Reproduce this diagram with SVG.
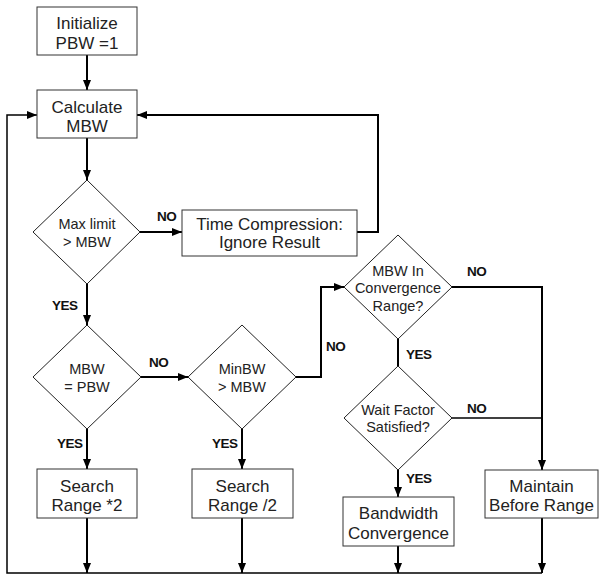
<svg xmlns="http://www.w3.org/2000/svg" width="599" height="577" viewBox="0 0 599 577">
<style>
  .box{fill:#fff;stroke:#333;stroke-width:1}
  .dia{fill:#fff;stroke:#222;stroke-width:1}
  .t{font-family:"Liberation Sans",Arial,sans-serif;font-size:17px;fill:#222;text-anchor:middle}
  .d{font-family:"Liberation Sans",Arial,sans-serif;font-size:14.5px;fill:#222;text-anchor:middle}
  .lb{font-family:"Liberation Sans",Arial,sans-serif;font-size:13.5px;font-weight:bold;fill:#111;letter-spacing:-0.5px}
  .c{fill:none;stroke:#000;stroke-width:2}
  .c1{fill:none;stroke:#000;stroke-width:1.5}
</style>
<defs>
  <marker id="ah" markerUnits="userSpaceOnUse" markerWidth="10" markerHeight="10" viewBox="0 0 10 10" refX="10" refY="5" orient="auto">
    <path d="M0,1 L10,5 L0,9 Z" fill="#000"/>
  </marker>
</defs>
<rect width="599" height="577" fill="#fff"/>
<g id="connectors">
  <path class="c" d="M87,55 V90" marker-end="url(#ah)"/>
  <path class="c" d="M87,138 V180" marker-end="url(#ah)"/>
  <path class="c" d="M140,232 H182" marker-end="url(#ah)"/>
  <path class="c" d="M87,284 V325" marker-end="url(#ah)"/>
  <path class="c" d="M141,377 H188" marker-end="url(#ah)"/>
  <path class="c" d="M87,429 V469" marker-end="url(#ah)"/>
  <path class="c" d="M242,429 V469" marker-end="url(#ah)"/>
  <path class="c" d="M296,377 H321 V287 H344" marker-end="url(#ah)"/>
  <path class="c" d="M452,287 H542 V470" marker-end="url(#ah)"/>
  <path class="c1" d="M452,418 H542"/>
  <path class="c" d="M398,339 V366"/>
  <path class="c" d="M398,470 V497" marker-end="url(#ah)"/>
  <path class="c" d="M357,232 H378 V115 H137" marker-end="url(#ah)"/>
  <path class="c" d="M87,518 V573" marker-end="url(#ah)"/>
  <path class="c" d="M242,518 V573" marker-end="url(#ah)"/>
  <path class="c" d="M398,546 V573" marker-end="url(#ah)"/>
  <path class="c" d="M542,518 V573" marker-end="url(#ah)"/>
  <path class="c1" d="M542,573 H7 V115 H37" marker-end="url(#ah)"/>
</g>
<g id="labels">
  <text class="lb" x="157" y="221">NO</text>
  <text class="lb" x="52" y="310">YES</text>
  <text class="lb" x="149" y="367">NO</text>
  <text class="lb" x="57" y="448">YES</text>
  <text class="lb" x="212" y="448">YES</text>
  <text class="lb" x="326" y="351">NO</text>
  <text class="lb" x="467" y="276">NO</text>
  <text class="lb" x="406" y="359">YES</text>
  <text class="lb" x="467" y="413">NO</text>
  <text class="lb" x="406" y="483">YES</text>
</g>
<g id="init">
  <rect class="box" x="37" y="7" width="100" height="48"/>
  <text class="t" x="87" y="29">Initialize</text>
  <text class="t" x="87" y="49">PBW =1</text>
</g>
<g id="calc">
  <rect class="box" x="37" y="90" width="100" height="48"/>
  <text class="t" x="87" y="113">Calculate</text>
  <text class="t" x="87" y="132">MBW</text>
</g>
<g id="maxlimit">
  <polygon class="dia" points="87,180 140,232 87,284 33,232"/>
  <text class="d" x="87" y="229">Max limit</text>
  <text class="d" x="87" y="247">&gt; MBW</text>
</g>
<g id="timecomp">
  <rect class="box" x="182" y="210" width="175" height="46"/>
  <text class="t" x="269.5" y="230">Time Compression:</text>
  <text class="t" x="269.5" y="248">Ignore Result</text>
</g>
<g id="mbwpbw">
  <polygon class="dia" points="87,325 141,377 87,429 33,377"/>
  <text class="d" x="87" y="374">MBW</text>
  <text class="d" x="87" y="392">= PBW</text>
</g>
<g id="minbw">
  <polygon class="dia" points="242,325 296,377 242,429 188,377"/>
  <text class="d" x="242" y="374">MinBW</text>
  <text class="d" x="242" y="392">&gt; MBW</text>
</g>
<g id="convrange">
  <polygon class="dia" points="398,235 452,287 398,339 344,287"/>
  <text class="d" x="398" y="276">MBW In</text>
  <text class="d" x="398" y="293">Convergence</text>
  <text class="d" x="398" y="311">Range?</text>
</g>
<g id="waitfactor">
  <polygon class="dia" points="398,366 452,418 398,470 344,418"/>
  <text class="d" x="398" y="415">Wait Factor</text>
  <text class="d" x="398" y="432">Satisfied?</text>
</g>
<g id="search2">
  <rect class="box" x="37" y="469" width="100" height="49"/>
  <text class="t" x="87" y="492">Search</text>
  <text class="t" x="87" y="511">Range *2</text>
</g>
<g id="searchhalf">
  <rect class="box" x="192" y="469" width="101" height="49"/>
  <text class="t" x="242.5" y="492">Search</text>
  <text class="t" x="242.5" y="511">Range /2</text>
</g>
<g id="bwconv">
  <rect class="box" x="343" y="497" width="111" height="49"/>
  <text class="t" x="398.5" y="519">Bandwidth</text>
  <text class="t" x="398.5" y="539">Convergence</text>
</g>
<g id="maintain">
  <rect class="box" x="485" y="470" width="113" height="48"/>
  <text class="t" x="541.5" y="492">Maintain</text>
  <text class="t" x="541.5" y="511">Before Range</text>
</g>
</svg>
